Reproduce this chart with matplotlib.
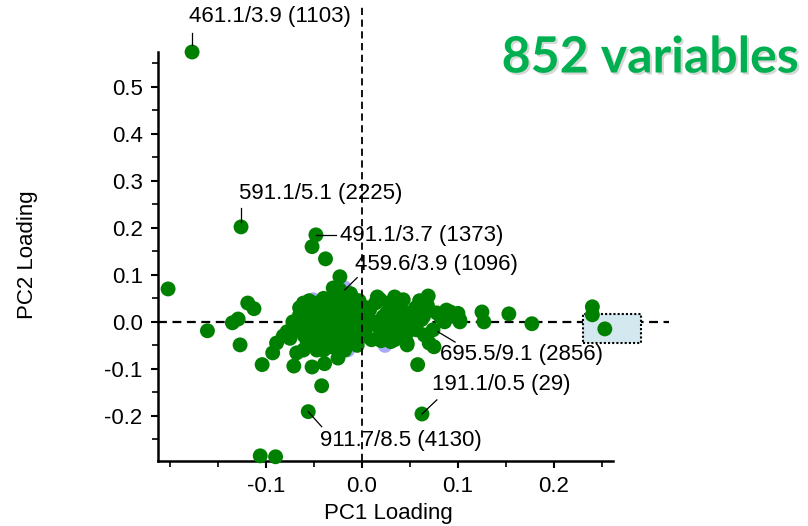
import matplotlib
matplotlib.use("Agg")
import matplotlib.pyplot as plt
import matplotlib.patheffects as pe
from matplotlib.patches import Rectangle

plt.rcParams['font.family'] = ['Liberation Sans', 'DejaVu Sans']

# PC loadings of the variables (green)
pc1 = [-0.177, -0.126, -0.048, -0.052, -0.038, -0.023, -0.028, -0.202, -0.161, -0.135,
       -0.129, -0.119, -0.1125, -0.127, -0.104, -0.093, -0.089, -0.078, -0.072, -0.068,
       -0.071, -0.052, -0.039, -0.025, -0.042, -0.056, 0.0625, -0.106, -0.090, 0.058,
       0.069, 0.075, 0.047, 0.125, 0.127, 0.153, 0.177, 0.102, 0.240, 0.240,
       0.253, 0.070,
       -0.061, -0.057, -0.047, -0.036, -0.026, -0.0125, -0.005, -0.054, -0.041, -0.026,
       -0.0125, -0.005, -0.047, -0.033, -0.020, -0.0125, -0.057, -0.033, -0.047, -0.061,
       -0.030, -0.065, -0.070, -0.018, -0.007, -0.023, -0.039, -0.049, -0.018, -0.007,
       -0.023, -0.010,
       -0.065, -0.060, -0.055, -0.050, -0.045, -0.040, -0.035, -0.030, -0.030, -0.028,
       -0.020, -0.015, -0.010, -0.005, -0.003, -0.008, -0.015, -0.025, -0.038, -0.042,
       -0.050, -0.060, -0.065, -0.075, -0.082, -0.040, -0.025, -0.005, -0.012, -0.020,
       -0.040,
       0.008, 0.019, 0.029, 0.043, 0.022, 0.036, 0.050, 0.064, 0.078, 0.092,
       0.102, 0.005, 0.019, 0.032, 0.047, 0.057, 0.074, 0.047, 0.055, 0.086,
       0.010, 0.034, 0.016, 0.034, 0.068,
       0.003, 0.005, 0.012, 0.014, 0.026, 0.028, 0.040, 0.042, 0.056, 0.062,
       0.070, 0.082, 0.096, 0.065, 0.040, 0.025, 0.003, 0.088, 0.100, 0.060,
       0.020, 0.030]
pc2 = [0.574, 0.202, 0.185, 0.160, 0.134, 0.096, 0.070, 0.070, -0.019, -0.002,
       0.006, 0.040, 0.028, -0.049, -0.091, -0.066, -0.045, -0.021, 0.000, -0.066,
       -0.094, -0.096, -0.089, -0.077, -0.136, -0.191, -0.196, -0.285, -0.287, -0.091,
       0.055, -0.053, -0.049, 0.021, 0.000, 0.017, -0.004, 0.000, 0.032, 0.015,
       -0.015, -0.045,
       0.040, 0.026, 0.040, 0.047, 0.053, 0.047, 0.032, -0.002, 0.011, 0.011,
       0.004, -0.017, -0.032, -0.023, -0.032, -0.045, -0.045, -0.053, -0.060, -0.060,
       0.072, 0.015, -0.017, 0.026, 0.015, -0.006, -0.006, 0.015, -0.060, -0.038,
       0.068, 0.051,
       0.030, 0.010, 0.045, 0.030, 0.000, 0.030, 0.020, 0.035, 0.000, -0.015,
       0.040, 0.020, 0.030, 0.000, 0.045, -0.030, -0.020, -0.045, -0.040, -0.015,
       -0.020, -0.030, -0.010, -0.035, -0.030, -0.060, -0.060, -0.050, 0.060, 0.060,
       0.050,
       0.026, 0.047, 0.040, 0.047, 0.011, 0.011, 0.019, 0.011, 0.019, 0.021,
       0.004, -0.011, -0.017, -0.017, -0.023, -0.017, -0.017, -0.045, 0.000, 0.000,
       -0.038, -0.038, 0.053, 0.053, 0.036,
       0.010, 0.030, 0.000, 0.040, 0.020, 0.000, 0.030, 0.000, 0.030, 0.005,
       0.025, 0.010, 0.012, -0.028, -0.030, -0.035, -0.030, 0.025, 0.018, 0.045,
       -0.040, -0.042]

# second group (light blue, mostly hidden)
pc1_b = [-0.018, -0.051, 0.001, -0.015, 0.024]
pc2_b = [0.072, 0.047, 0.032, -0.060, -0.050]

# labelled variables: text, point, text anchor
labels = ["461.1/3.9 (1103)", "591.1/5.1 (2225)", "491.1/3.7 (1373)", "459.6/3.9 (1096)",
          "695.5/9.1 (2856)", "191.1/0.5 (29)", "911.7/8.5 (4130)"]
lab_x = [-0.180, -0.128, -0.023, -0.007, 0.081, 0.073, -0.044]
lab_y = [0.649, 0.274, 0.183, 0.123, -0.070, -0.134, -0.253]
lead_x0 = [-0.177, -0.126, -0.048, -0.018, 0.079, 0.0625, -0.056]
lead_y0 = [0.589, 0.213, 0.185, 0.068, -0.021, -0.196, -0.191]
lead_x1 = [-0.177, -0.126, -0.027, -0.005, 0.097, 0.078, -0.042]
lead_y1 = [0.615, 0.243, 0.185, 0.094, -0.043, -0.166, -0.223]

# selection box
box_x = [0.230, 0.291]
box_y = [-0.045, 0.017]

fig = plt.figure(figsize=(8.08, 5.26), dpi=100)
ax = fig.add_axes([158/808, 1-461/526, (613-158)/808, (461-52)/526])
ax.set_xlim(-0.2125, 0.2615)
ax.set_ylim(-0.296, 0.574)

# horizontal zero line (behind)
ax.plot([-0.2125, 0.32], [0, 0], color='black', lw=1.6, ls=(0, (4, 2.5)),
        zorder=1, clip_on=False)

ax.add_patch(Rectangle((box_x[0], box_y[0]), box_x[1]-box_x[0], box_y[1]-box_y[0],
                       facecolor='#d4e8f0', edgecolor='black', lw=1.5, ls=(0, (1, 1)),
                       zorder=2, clip_on=False))

ax.scatter(pc1_b, pc2_b, s=115, color='#a5abf5', edgecolors='none', zorder=3, clip_on=False)
ax.scatter(pc1, pc2, s=115, color='#008000', edgecolors='none', zorder=4, clip_on=False)

# vertical zero line (in front)
ax.plot([0, 0], [-0.296, 0.674], color='black', lw=1.3, ls=(0, (4, 2.5)),
        zorder=5, clip_on=False)

for t, tx, ty, x0, y0, x1, y1 in zip(labels, lab_x, lab_y, lead_x0, lead_y0, lead_x1, lead_y1):
    ax.plot([x0, x1], [y0, y1], color='black', lw=0.9, zorder=6, clip_on=False)
    ax.text(tx, ty, t, fontsize=16, ha='left', va='center', zorder=6)

for s in ['top', 'right']:
    ax.spines[s].set_visible(False)
for s in ['left', 'bottom']:
    ax.spines[s].set_linewidth(1.8)

ax.set_xticks([-0.1, 0.0, 0.1, 0.2])
ax.set_xticklabels(['-0.1', '0.0', '0.1', '0.2'])
ax.set_xticks([-0.2, -0.15, -0.05, 0.05, 0.15, 0.25], minor=True)
ax.set_yticks([-0.2, -0.1, 0.0, 0.1, 0.2, 0.3, 0.4, 0.5])
ax.set_yticklabels(['-0.2', '-0.1', '0.0', '0.1', '0.2', '0.3', '0.4', '0.5'])
ax.set_yticks([-0.25, -0.15, -0.05, 0.05, 0.15, 0.25, 0.35, 0.45, 0.55], minor=True)
ax.tick_params(axis='both', which='major', length=5, width=1.5, labelsize=16, pad=6)
ax.tick_params(axis='both', which='minor', length=4, width=1.2)

ax.set_xlabel('PC1 Loading', fontsize=16)
ax.set_ylabel('PC2 Loading', fontsize=16)
ax.xaxis.set_label_coords((388-158)/455, (461-513)/409)
ax.yaxis.set_label_coords((27-158)/455, (461-255)/409)
ax.xaxis.label.set_va('center')
ax.yaxis.label.set_va('center')

fig.text(650/808, 1-58/526, '852 variables', fontsize=36, fontweight='bold',
         family=['Lato', 'DejaVu Sans'], color='#00b050', ha='center', va='center',
         path_effects=[pe.SimplePatchShadow(offset=(1.5, -1.5), shadow_rgbFace='#bbbbbb', alpha=0.6),
                       pe.Normal()])

fig.savefig('out.png', dpi=100)
